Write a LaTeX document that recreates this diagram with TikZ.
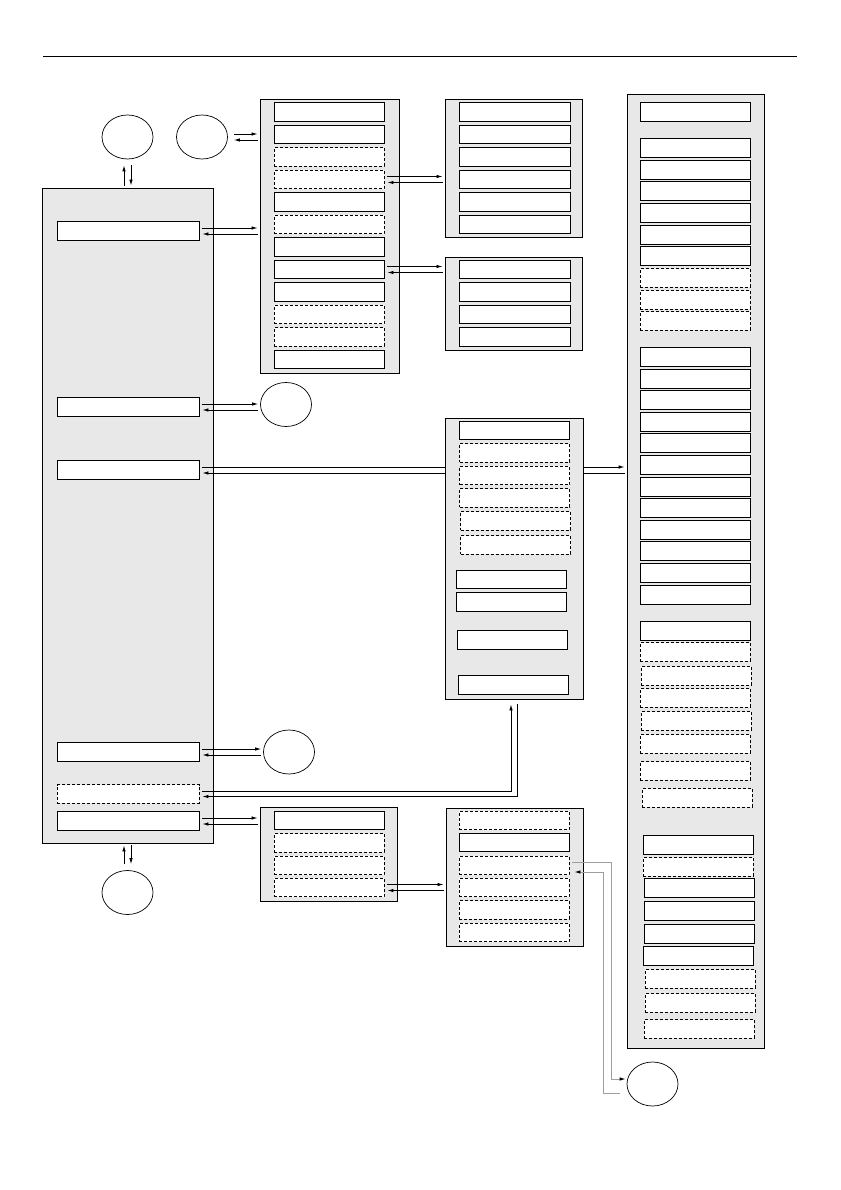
\documentclass[tikz,border=0pt]{standalone}
\usepackage{tikz}
\usetikzlibrary{shapes.geometric, arrows.meta, calc}
\definecolor{panelgray}{gray}{0.91}
\tikzstyle{panel}=[draw,fill=panelgray,rectangle,inner sep=0pt,line width=0.9pt]
\tikzstyle{block}=[draw,fill=white,rectangle,inner sep=0pt,line width=0.9pt,minimum width=110pt,minimum height=18.5pt]
\tikzstyle{optblock}=[block,dash pattern=on 3pt off 2pt]
\tikzstyle{actor}=[draw,ellipse,inner sep=0pt,line width=0.7pt,minimum width=51pt,minimum height=44pt]
\tikzstyle{feed}=[draw=gray!75,line width=0.9pt]
\newcommand{\biarrow}[3][3]{%
  \draw[->] ($(#2.east)+(#1,-3)$) -- ($(#2.east -| #3.west)+(-2,-3)$);
  \draw[<-] ($(#2.east)+(#1,3)$) -- ($(#2.east -| #3.west)+(-2,3)$);}

\begin{document}
\begin{tikzpicture}[x=1pt,y=-1pt,line width=0.8pt,>={Latex[length=6pt,width=3.5pt]}]
    \useasboundingbox (0,0) rectangle (840,1190);
    \draw[line width=1pt] (43,57) -- (797,57);

    \node[panel, minimum width=171pt, minimum height=655pt] (pL) at (127.5,515.5) {};
    \foreach \i/\y/\s in {1/231/block,2/407/block,3/470/block,4/752/block,5/794/optblock,6/821/block}
        \node[\s, minimum width=142pt] (l\i) at (128,\y) {};
    \node[actor] (c1) at (127.5,137) {};
    \node[actor] (c2) at (202,137) {};
    \node[actor] (c5) at (127.5,892.5) {};

    \node[panel, minimum width=139pt, minimum height=274pt] (pA) at (329.5,236) {};
    \foreach \i/\s in {1/block,2/block,3/optblock,4/optblock,5/block,6/optblock,7/block,8/block,9/block,10/optblock,11/optblock,12/block}
        \node[\s] (a\i) at (329,{89.5+22.5*\i}) {};

    \node[panel, minimum width=137pt, minimum height=138pt] (pB) at (513.5,168) {};
    \foreach \i in {1,...,6}
        \node[block, minimum width=111pt] (b\i) at (514.5,{89.5+22.5*\i}) {};

    \node[panel, minimum width=137pt, minimum height=93pt] (pC) at (513.5,303.5) {};
    \foreach \i in {1,...,4}
        \node[block, minimum width=111pt] (k\i) at (514.5,{247+22.5*\i}) {};

    \node[panel, minimum width=137pt, minimum height=954pt] (pE) at (695.5,571) {};
    \foreach \i/\x/\y/\s in {1/695/112/block,2/695/148/block,3/695/170/block,4/695/191/block,
        5/695/213/block,6/695/235/block,7/695/256/block,8/695/278/optblock,9/695/300/optblock,
        10/695/321/optblock,11/695/357/block,12/695/379/block,13/695/400/block,14/695/422/block,
        15/695/443/block,16/695/465/block,17/695/487/block,18/695/508/block,19/695/530/block,
        20/695/551/block,21/695/573/block,22/695/595/block,23/695/631/block,24/695/652/optblock,
        25/696/676/optblock,26/695/698/optblock,27/696/721/optblock,28/695/744/optblock,
        29/695/771/optblock,30/697/798/optblock,31/698/845/block,32/698/867/optblock,
        33/699/888/block,34/699/911/block,35/699/934/block,36/698/956/block,
        37/700/979/optblock,38/700/1003/optblock,39/699/1029/optblock}
        \node[\s] (e\i) at (\x,\y) {};

    \biarrow{l3}{pE}

    \node[panel, minimum width=138pt, minimum height=281pt] (pD) at (514,558.5) {};
    \foreach \i/\x/\y/\s in {1/514.5/430.5/block,2/514.5/453/optblock,3/514.5/475.5/optblock,
        4/514.5/498/optblock,5/515.5/521/optblock,6/515.5/545/optblock,7/511/579.5/block,
        8/511/602/block,9/512/640/block,10/513/685/block}
        \node[\s] (d\i) at (\x,\y) {};

    \node[actor] (c3) at (286,404.5) {};
    \node[actor] (c4) at (289,752) {};

    \node[panel, minimum width=137pt, minimum height=94pt] (pF) at (328.5,854) {};
    \foreach \i/\y/\s in {1/820.5/block,2/843/optblock,3/865.5/optblock,4/887.5/optblock}
        \node[\s] (f\i) at (329,\y) {};

    \node[panel, minimum width=137pt, minimum height=138pt] (pG) at (514.5,877) {};
    \foreach \i/\y/\s in {1/820.5/optblock,2/842.5/block,3/865.5/optblock,4/887.5/optblock,5/910/optblock,6/932.5/optblock}
        \node[\s] (g\i) at (514,\y) {};

    \node[actor] (c6) at (652.5,1084) {};

    \draw[->] ($(pL.north)+(-3.5,-2)$) -- ($(c1.south)+(-3.5,6)$);
    \draw[<-] ($(pL.north)+(3.5,-2)$) -- ($(c1.south)+(3.5,6)$);
    \draw[->] ($(c5.north)+(-3.5,-6)$) -- ($(pL.south)+(-3.5,2)$);
    \draw[<-] ($(c5.north)+(3.5,-6)$) -- ($(pL.south)+(3.5,2)$);
    \biarrow[6]{c2}{pA}
    \biarrow{l1}{pA}
    \biarrow{a4}{pB}
    \biarrow{a8}{pC}
    \biarrow{l2}{c3}
    \biarrow{l4}{c4}
    \biarrow{l6}{pF}
    \biarrow{f4}{pG}
    \draw[->] ($(l5.east)+(3,-2.5)$) -| ($(pD.south)+(-3,5)$);
    \draw[->] ($(pD.south)+(3,5)$) |- ($(l5.east)+(3,2.5)$);
    \draw[feed,-{Latex[length=6pt,width=3.5pt,color=black]}] ($(g3.east)+(3,-3.5)$) -- ++(39,0) |- ($(c6.west)+(-1,-5)$);
    \draw[feed,-{Latex[length=6pt,width=3.5pt,color=black]}] ($(c6.west)+(-7,9)$) -- ++(-16,0) |- ($(g3.east)+(5,6.5)$);
\end{tikzpicture}
\end{document}
